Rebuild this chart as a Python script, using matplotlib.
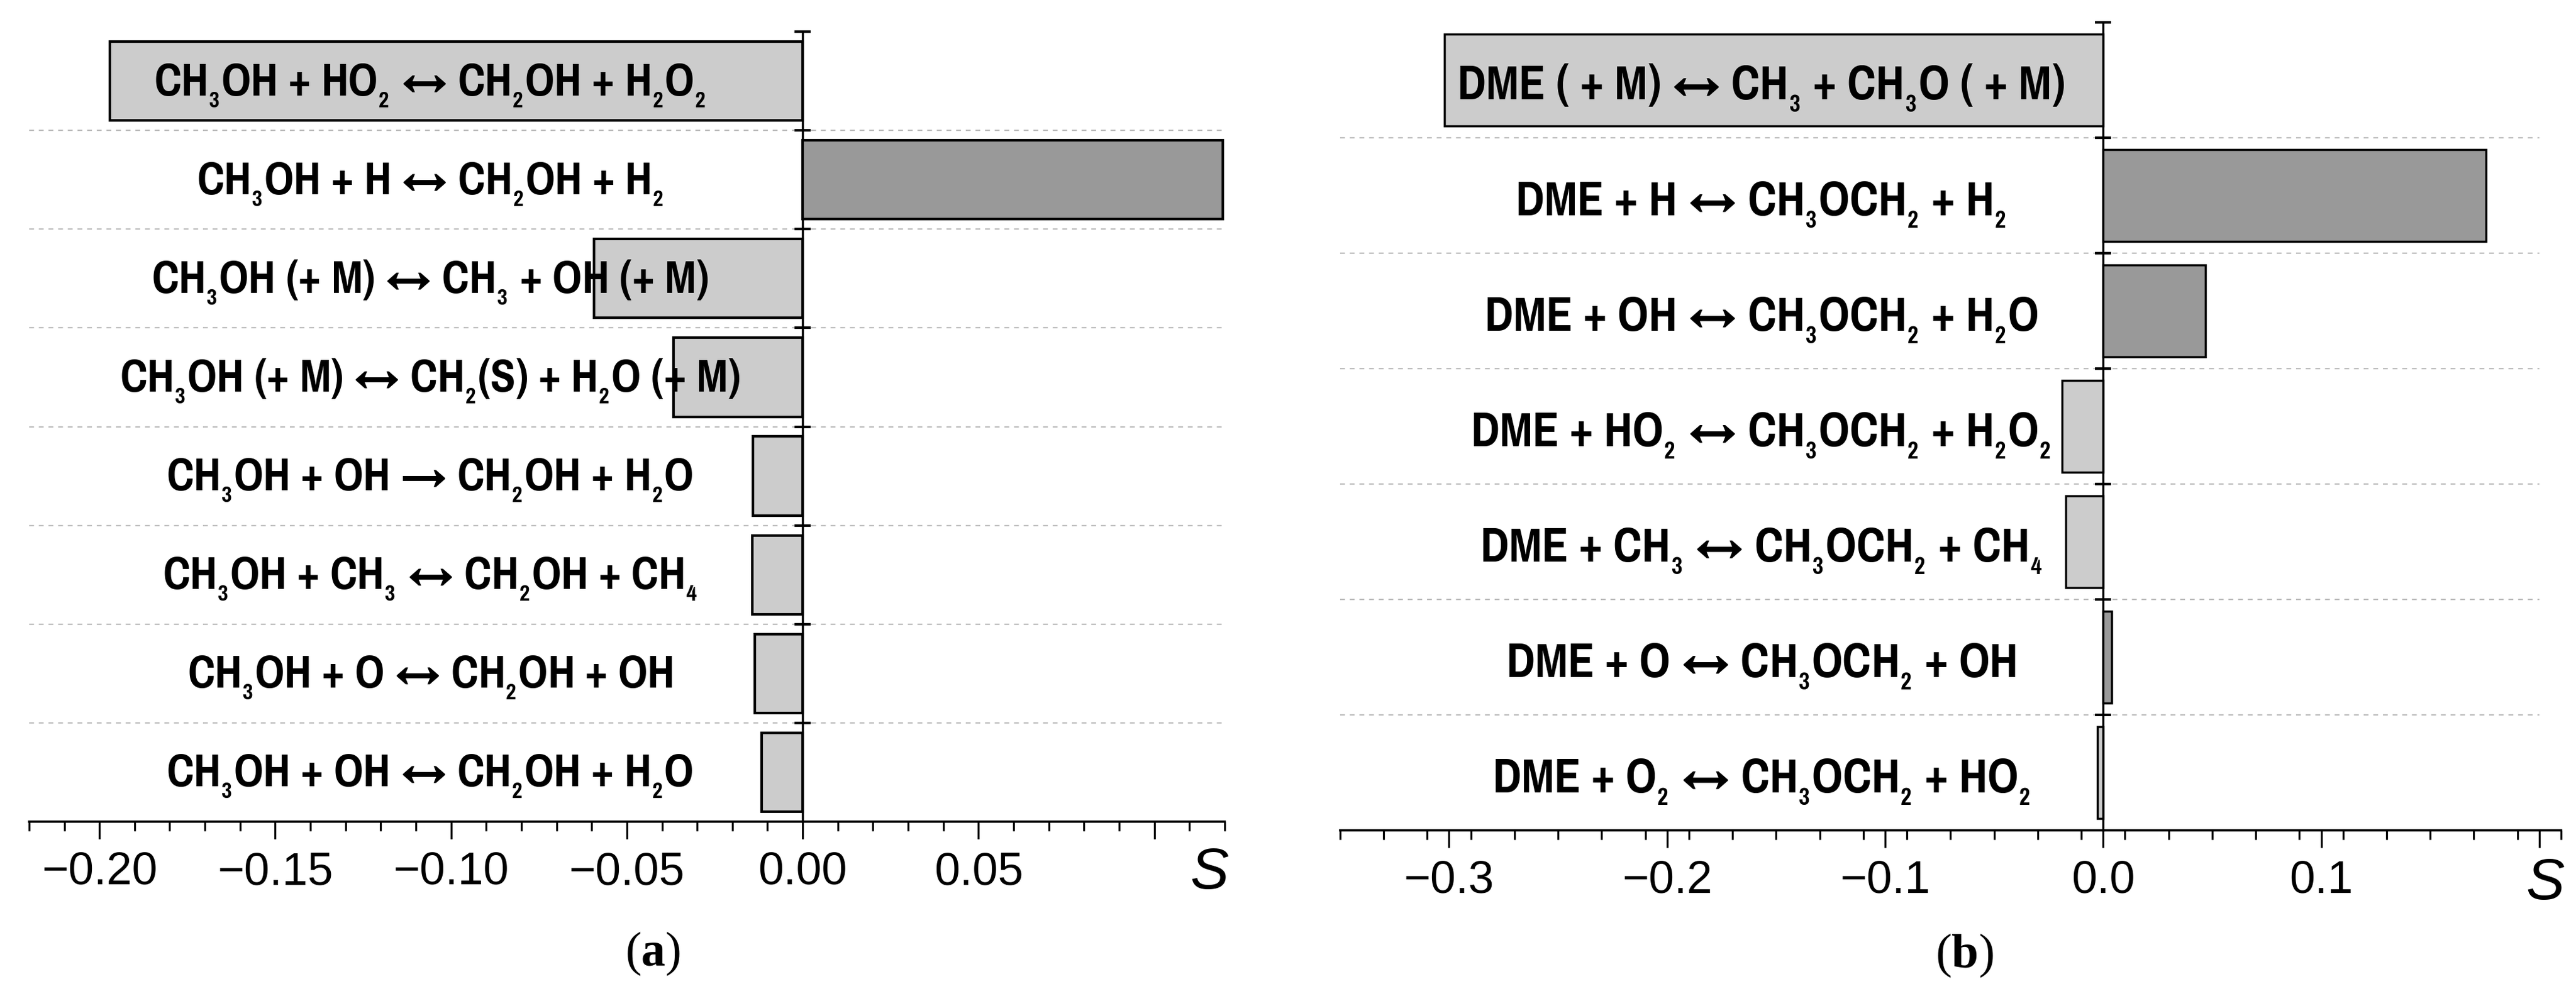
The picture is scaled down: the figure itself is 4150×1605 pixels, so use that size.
import numpy as np
import matplotlib
matplotlib.use('Agg')
import matplotlib.pyplot as plt
from matplotlib import font_manager

# pick a narrow sans (Arial Narrow look) from what is installed
names = {f.name for f in font_manager.fontManager.ttflist}
narrow = 'Liberation Sans'
for cand in ['Liberation Sans Narrow', 'Pragati Narrow', 'Archivo Narrow',
             'Roboto Condensed', 'PT Sans Narrow', 'Open Sans Condensed',
             'IBM Plex Sans Condensed']:
    if cand in names:
        narrow = cand
        break

plt.rcParams['font.family'] = [narrow, 'DejaVu Sans']
plt.rcParams['mathtext.fontset'] = 'custom'
plt.rcParams['mathtext.default'] = 'regular'
plt.rcParams['mathtext.bf'] = 'Liberation Serif:bold'

# (a) methanol  -- subscripts written as $_{_n}$ so they come out small and low
reactions_a = [
    r'CH$_{_3}$OH + HO$_{_2}$ ↔ CH$_{_2}$OH + H$_{_2}$O$_{_2}$',
    r'CH$_{_3}$OH + H ↔ CH$_{_2}$OH + H$_{_2}$',
    r'CH$_{_3}$OH (+ M) ↔ CH$_{_3}$ + OH (+ M)',
    r'CH$_{_3}$OH (+ M) ↔ CH$_{_2}$(S) + H$_{_2}$O (+ M)',
    r'CH$_{_3}$OH + OH → CH$_{_2}$OH + H$_{_2}$O',
    r'CH$_{_3}$OH + CH$_{_3}$ ↔ CH$_{_2}$OH + CH$_{_4}$',
    r'CH$_{_3}$OH + O ↔ CH$_{_2}$OH + OH',
    r'CH$_{_3}$OH + OH ↔ CH$_{_2}$OH + H$_{_2}$O',
]
sens_a = [-0.197, 0.1195, -0.0594, -0.0367, -0.0141, -0.0143, -0.0136, -0.0117]
ticks_a = [-0.20, -0.15, -0.10, -0.05, 0.00, 0.05, 0.10]
ticklabels_a = ['\u22120.20', '\u22120.15', '\u22120.10', '\u22120.05', '0.00', '0.05', '']

# (b) DME
reactions_b = [
    r'DME ( + M) ↔ CH$_{_3}$ + CH$_{_3}$O ( + M)',
    r'DME + H ↔ CH$_{_3}$OCH$_{_2}$ + H$_{_2}$',
    r'DME + OH ↔ CH$_{_3}$OCH$_{_2}$ + H$_{_2}$O',
    r'DME + HO$_{_2}$ ↔ CH$_{_3}$OCH$_{_2}$ + H$_{_2}$O$_{_2}$',
    r'DME + CH$_{_3}$ ↔ CH$_{_3}$OCH$_{_2}$ + CH$_{_4}$',
    r'DME + O ↔ CH$_{_3}$OCH$_{_2}$ + OH',
    r'DME + O$_{_2}$ ↔ CH$_{_3}$OCH$_{_2}$ + HO$_{_2}$',
]
sens_b = [-0.302, 0.1756, 0.047, -0.019, -0.0172, 0.004, -0.0025]
ticks_b = [-0.3, -0.2, -0.1, 0.0, 0.1, 0.2]
ticklabels_b = ['\u22120.3', '\u22120.2', '\u22120.1', '0.0', '0.1', '']


def panel(ax, labels, values, xlim, ticks, ticklabels, minor_step,
          label_x, text_dy, label_size, bar_lw, s_y):
    n = len(labels)
    y = np.arange(n)
    colors = ['#999999' if v > 0 else '#cccccc' for v in values]
    ax.barh(y, values, height=0.8, color=colors, edgecolor='black',
            linewidth=bar_lw, zorder=3)
    ax.set_ylim(n - 0.5, -0.5)
    ax.set_xlim(*xlim)

    # dotted separators between rows
    ax.hlines(y[:-1] + 0.5, xlim[0], xlim[1], colors='#bcbcbc',
              linewidth=1.6, linestyles=(0, (3.5, 3.5)), zorder=1)

    for i, txt in enumerate(labels):
        ax.text(label_x, i + text_dy, txt, ha='center', va='baseline',
                fontsize=label_size, fontweight='bold', zorder=5)

    ax.spines['top'].set_visible(False)
    ax.spines['right'].set_visible(False)
    ax.spines['left'].set_position(('data', 0))
    ax.spines['left'].set_linewidth(2.5)
    ax.spines['bottom'].set_linewidth(2.6)

    ax.set_yticks(np.arange(-0.5, n - 1, 1.0))
    ax.set_yticklabels([])
    ax.tick_params(axis='y', direction='inout', length=19, width=3)

    ax.set_xticks(ticks)
    ax.set_xticklabels(ticklabels)
    minors = np.round(np.arange(xlim[0], xlim[1] + minor_step / 2, minor_step), 3)
    ax.set_xticks(minors, minor=True)
    ax.tick_params(axis='x', which='major', direction='out', length=20,
                   width=2.3, labelsize=53, pad=14,
                   labelfontfamily='Liberation Sans')
    ax.tick_params(axis='x', which='minor', direction='out', length=11,
                   width=2.3)

    ax.text(0.987, s_y, 'S', transform=ax.transAxes, ha='center', va='center',
            fontsize=67, style='italic', family='Liberation Sans')


fig = plt.figure(figsize=(41.5, 16.05), dpi=100)
ax1 = fig.add_axes([0.0113, 0.1751, 0.4641, 0.7931])
ax2 = fig.add_axes([0.5202, 0.1663, 0.4740, 0.8113])

panel(ax1, reactions_a, sens_a, (-0.22, 0.12), ticks_a, ticklabels_a, 0.01,
      -0.106, 0.145, 58, 3.0, -0.066)
panel(ax2, reactions_b, sens_b, (-0.35, 0.2), ticks_b, ticklabels_b, 0.02,
      -0.157, 0.17, 61, 2.5, -0.067)

fig.text(0.2533, 0.0424, r'($\mathbf{a}$)', family='Liberation Serif',
         fontsize=56, ha='center', va='center')
fig.text(0.7627, 0.0405, r'($\mathbf{b}$)', family='Liberation Serif',
         fontsize=56, ha='center', va='center')

fig.savefig('out.png', dpi=100)
